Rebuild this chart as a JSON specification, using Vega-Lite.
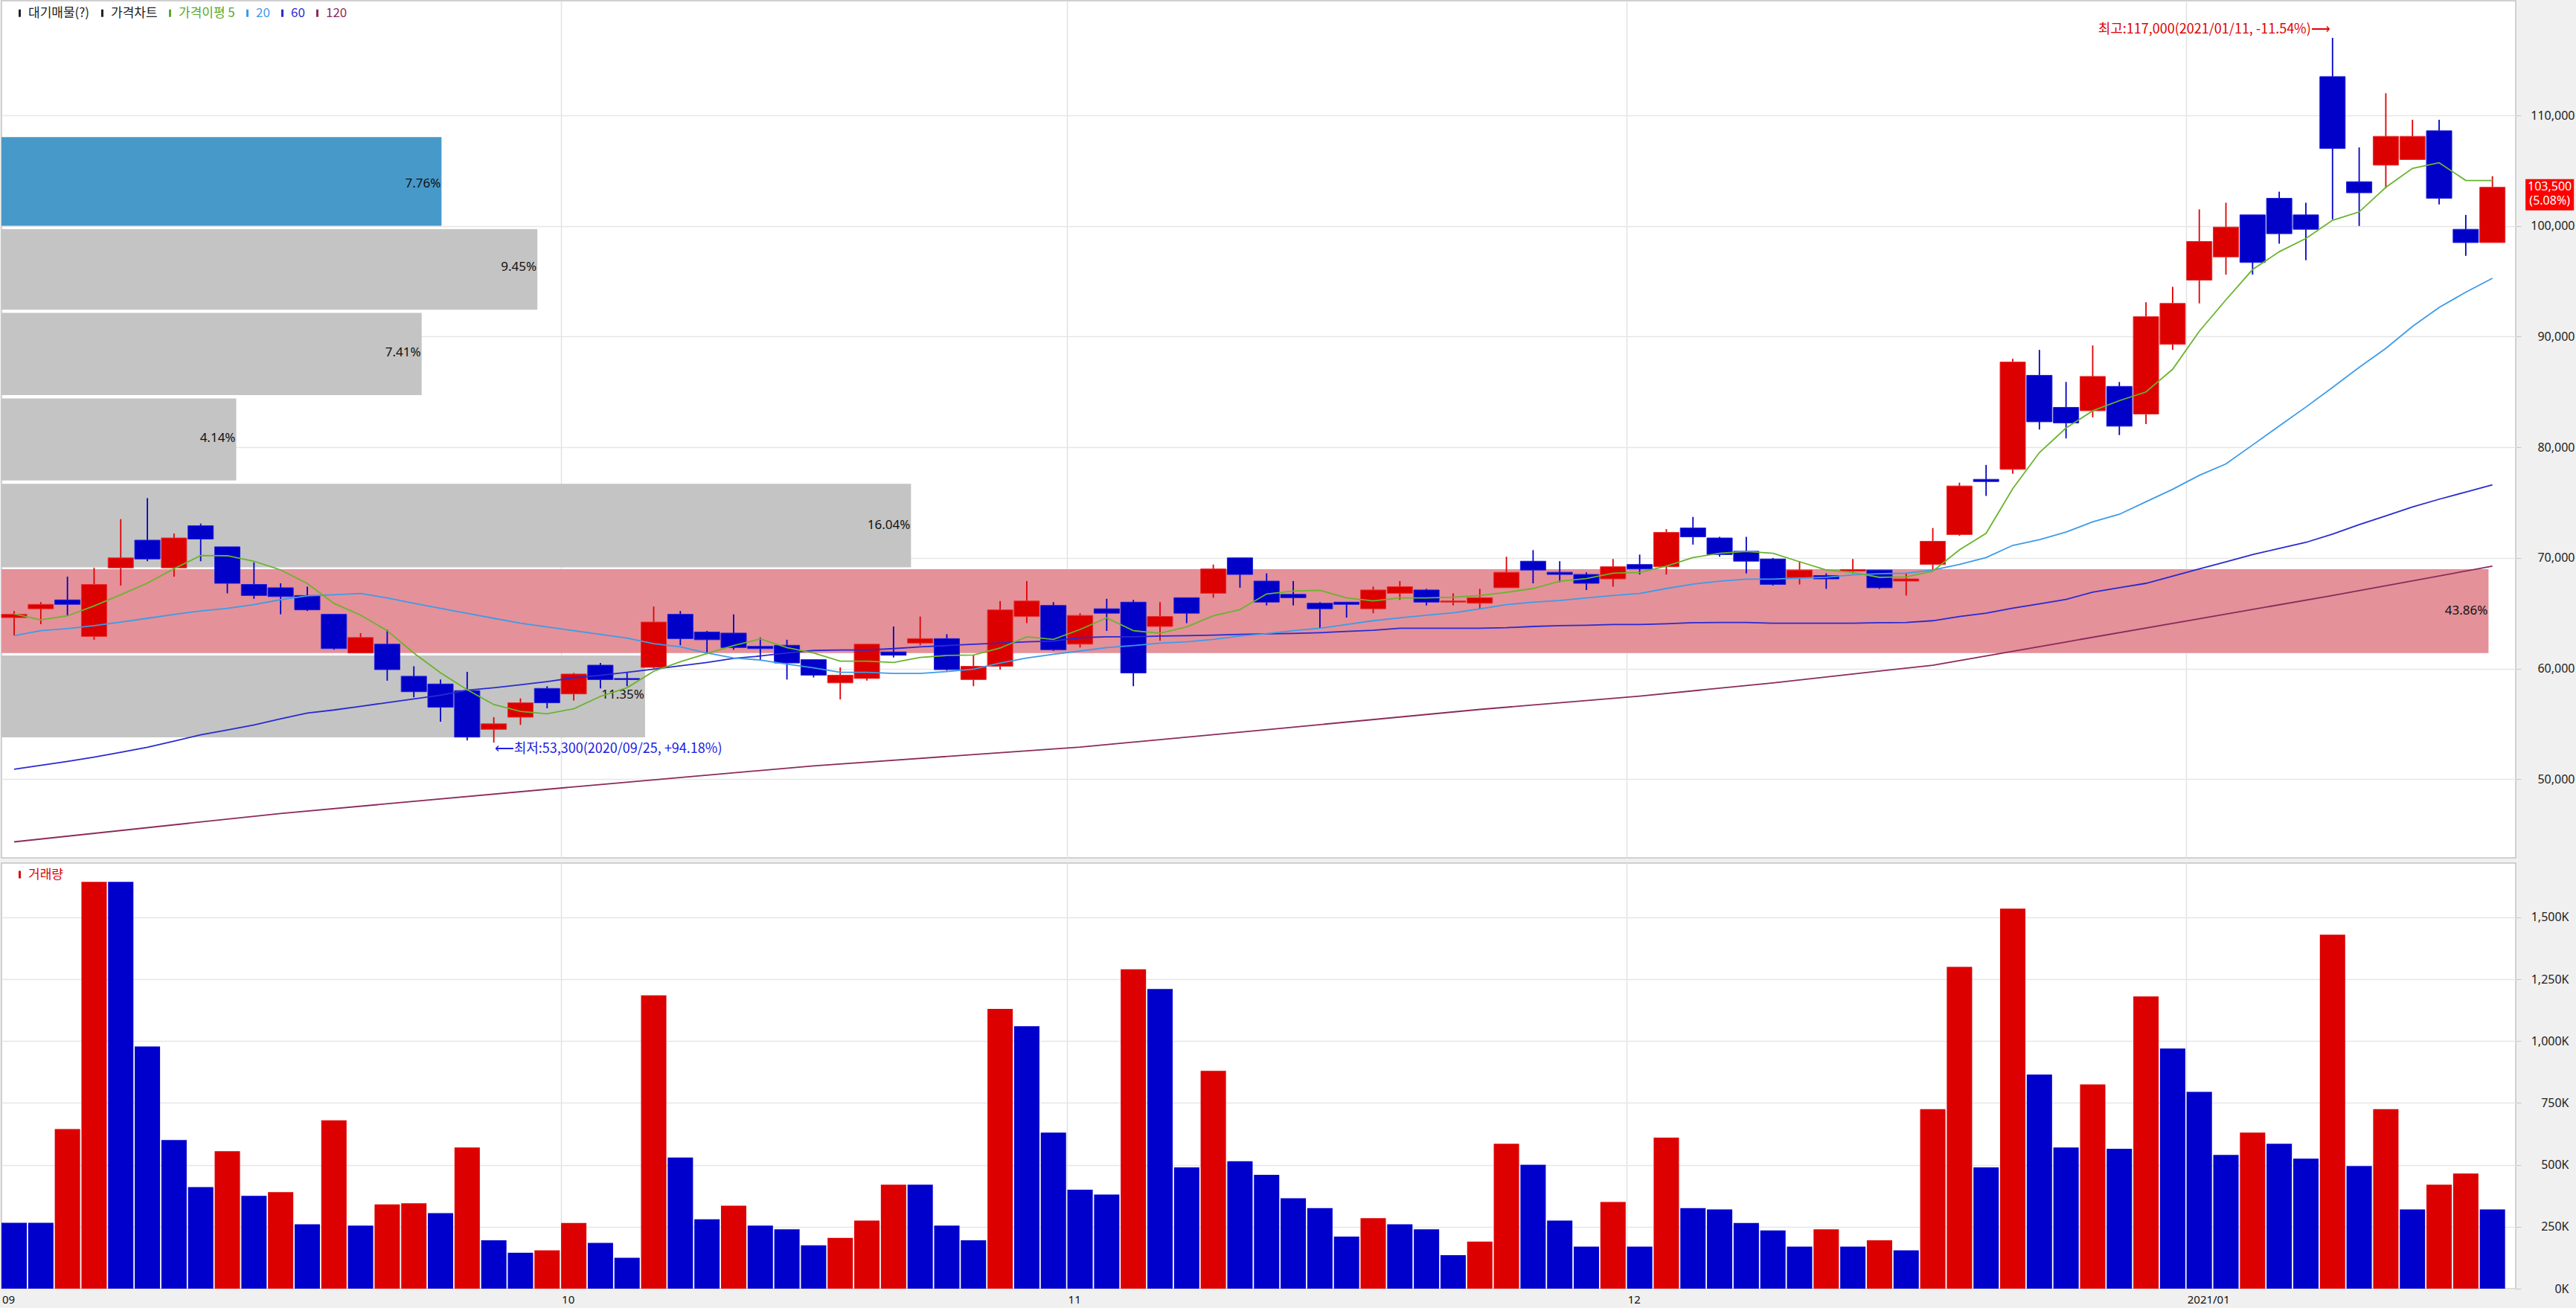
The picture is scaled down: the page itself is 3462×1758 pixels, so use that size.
{
"$schema": "https://vega.github.io/schema/vega-lite/v6.json",
"background": "#f0f0f0",
"padding": {"left": 0, "top": 0, "right": 4, "bottom": 6},
"spacing": 5,
"config": {
  "view": {"fill": "white", "stroke": "#c4c4c4", "strokeWidth": 1.5},
  "font": "Noto Sans CJK KR",
  "axis": {"labelFont": "Noto Sans", "titleFont": "Noto Sans"}
},
"resolve": {"scale": {"x": "independent", "y": "independent", "fill": "independent", "stroke": "independent"}, "legend": {"fill": "independent", "stroke": "independent"}},
"datasets": {
"k": [
{"d":"2020-09-01","o":64600,"h":65200,"l":63000,"c":64900,"v":266000,"vd":"down","m5":64940,"m20":62970,"m60":50900,"m120":44330},
{"d":"2020-09-02","o":65400,"h":66000,"l":64000,"c":65800,"v":266000,"vd":"down","m5":64400,"m20":63420,"m60":51250},
{"d":"2020-09-03","o":66200,"h":68300,"l":64800,"c":65800,"v":645000,"vd":"up","m5":64760,"m20":63600,"m60":51600},
{"d":"2020-09-04","o":62900,"h":69100,"l":62600,"c":67600,"v":1643000,"vd":"up","m5":65660,"m20":63870,"m60":51990},
{"d":"2020-09-07","o":69100,"h":73500,"l":67500,"c":70000,"v":1643000,"vd":"down","m5":66670,"m20":64200,"m60":52430},
{"d":"2020-09-08","o":71600,"h":75400,"l":69700,"c":69900,"v":978000,"vd":"down","m5":67720,"m20":64540,"m60":52880},
{"d":"2020-09-09","o":69100,"h":72200,"l":68300,"c":71800,"v":600000,"vd":"down","m5":69020,"m20":64880,"m60":53440},
{"d":"2020-09-10","o":72900,"h":73100,"l":69700,"c":71700,"v":410000,"vd":"down","m5":70210,"m20":65210,"m60":54000},
{"d":"2020-09-11","o":71000,"h":71000,"l":66800,"c":67700,"v":555000,"vd":"up","m5":70190,"m20":65440,"m60":54450},
{"d":"2020-09-14","o":67600,"h":69600,"l":66300,"c":66600,"v":375000,"vd":"down","m5":69700,"m20":65770,"m60":54900},
{"d":"2020-09-15","o":67300,"h":67700,"l":64900,"c":66500,"v":390000,"vd":"up","m5":68910,"m20":66220,"m60":55460,"m120":46900},
{"d":"2020-09-16","o":66600,"h":67400,"l":65200,"c":65300,"v":260000,"vd":"down","m5":67680,"m20":66560,"m60":55980},
{"d":"2020-09-17","o":64900,"h":64900,"l":61700,"c":61800,"v":680000,"vd":"up","m5":65890,"m20":66670,"m60":56250},
{"d":"2020-09-18","o":61400,"h":63200,"l":61400,"c":62800,"v":255000,"vd":"down","m5":64830,"m20":66780,"m60":56580},
{"d":"2020-09-21","o":62200,"h":63500,"l":58900,"c":59900,"v":340000,"vd":"up","m5":63420,"m20":66380,"m60":56920},
{"d":"2020-09-22","o":59300,"h":60200,"l":57400,"c":57900,"v":345000,"vd":"up","m5":61400,"m20":65890,"m60":57250},
{"d":"2020-09-23","o":58600,"h":59000,"l":55200,"c":56500,"v":305000,"vd":"down","m5":59610,"m20":65440,"m60":57590},
{"d":"2020-09-24","o":58000,"h":59700,"l":53500,"c":53800,"v":570000,"vd":"up","m5":58080,"m20":64990,"m60":58040},
{"d":"2020-09-25","o":54500,"h":55600,"l":53300,"c":55000,"v":195000,"vd":"down","m5":56740,"m20":64540,"m60":58260},
{"d":"2020-09-28","o":55600,"h":57300,"l":54900,"c":56900,"v":145000,"vd":"down","m5":56130,"m20":64090,"m60":58530},
{"d":"2020-09-29","o":58200,"h":58400,"l":56400,"c":56900,"v":155000,"vd":"up","m5":55910,"m20":63760,"m60":58820},
{"d":"2020-10-05","o":57700,"h":59600,"l":57100,"c":59500,"v":265000,"vd":"up","m5":56360,"m20":63420,"m60":59160,"m120":49300},
{"d":"2020-10-06","o":60300,"h":60500,"l":58200,"c":59000,"v":185000,"vd":"down","m5":57480,"m20":63080,"m60":59380},
{"d":"2020-10-07","o":59100,"h":59700,"l":58400,"c":59000,"v":125000,"vd":"down","m5":58260,"m20":62750,"m60":59650},
{"d":"2020-10-08","o":60100,"h":65600,"l":60000,"c":64200,"v":1185000,"vd":"up","m5":59750,"m20":62250,"m60":59940},
{"d":"2020-10-12","o":64900,"h":65200,"l":62100,"c":62700,"v":530000,"vd":"down","m5":60620,"m20":61960,"m60":60240},
{"d":"2020-10-13","o":63300,"h":63400,"l":61300,"c":62600,"v":280000,"vd":"down","m5":61360,"m20":61400,"m60":60550},
{"d":"2020-10-14","o":63200,"h":64900,"l":61700,"c":61900,"v":335000,"vd":"up","m5":62070,"m20":60950,"m60":60910},
{"d":"2020-10-15","o":62000,"h":62800,"l":60700,"c":61800,"v":255000,"vd":"down","m5":62680,"m20":60770,"m60":61130},
{"d":"2020-10-16","o":62100,"h":62600,"l":59000,"c":60500,"v":240000,"vd":"down","m5":61890,"m20":60390,"m60":61400},
{"d":"2020-10-19","o":60800,"h":60800,"l":59200,"c":59400,"v":175000,"vd":"down","m5":61400,"m20":60060,"m60":61630,"m120":51200},
{"d":"2020-10-20","o":58700,"h":60100,"l":57200,"c":59400,"v":205000,"vd":"up","m5":60660,"m20":59650,"m60":61670},
{"d":"2020-10-21","o":59100,"h":62200,"l":58900,"c":62200,"v":275000,"vd":"up","m5":60660,"m20":59650,"m60":61670},
{"d":"2020-10-22","o":61500,"h":63800,"l":61000,"c":61200,"v":420000,"vd":"up","m5":60550,"m20":59560,"m60":61800},
{"d":"2020-10-23","o":62300,"h":64700,"l":62100,"c":62700,"v":420000,"vd":"down","m5":61000,"m20":59560,"m60":61960},
{"d":"2020-10-26","o":62700,"h":63100,"l":59800,"c":59900,"v":255000,"vd":"down","m5":61180,"m20":59720,"m60":62070},
{"d":"2020-10-27","o":59000,"h":61200,"l":58400,"c":60200,"v":195000,"vd":"down","m5":61220,"m20":59940,"m60":62190},
{"d":"2020-10-28","o":60200,"h":66100,"l":59900,"c":65300,"v":1130000,"vd":"up","m5":61850,"m20":60500,"m60":62300},
{"d":"2020-10-29","o":64700,"h":67900,"l":64100,"c":66100,"v":1060000,"vd":"down","m5":62860,"m20":60950,"m60":62410},
{"d":"2020-10-30","o":65700,"h":66000,"l":61600,"c":61700,"v":630000,"vd":"down","m5":62630,"m20":61290,"m60":62480},
{"d":"2020-11-02","o":62200,"h":65000,"l":61900,"c":64800,"v":400000,"vd":"down","m5":63530,"m20":61580,"m60":62790,"m120":52900},
{"d":"2020-11-03","o":65400,"h":66300,"l":63400,"c":65000,"v":380000,"vd":"down","m5":64580,"m20":61890,"m60":62860},
{"d":"2020-11-04","o":66000,"h":66200,"l":58400,"c":59600,"v":1290000,"vd":"up","m5":63420,"m20":62070,"m60":62860},
{"d":"2020-11-05","o":63800,"h":66000,"l":62500,"c":64700,"v":1210000,"vd":"down","m5":63190,"m20":62300,"m60":62930},
{"d":"2020-11-06","o":66400,"h":66400,"l":64100,"c":65000,"v":490000,"vd":"down","m5":63760,"m20":62410,"m60":62970},
{"d":"2020-11-09","o":66800,"h":69400,"l":66400,"c":69000,"v":880000,"vd":"up","m5":64760,"m20":62630,"m60":63020},
{"d":"2020-11-10","o":70000,"h":70000,"l":67300,"c":68500,"v":515000,"vd":"down","m5":65320,"m20":62930,"m60":63080},
{"d":"2020-11-11","o":67900,"h":68600,"l":65700,"c":66000,"v":460000,"vd":"down","m5":66740,"m20":63150,"m60":63130},
{"d":"2020-11-12","o":66700,"h":67900,"l":65700,"c":66400,"v":365000,"vd":"down","m5":67000,"m20":63420,"m60":63170,"m120":54700},
{"d":"2020-11-13","o":65900,"h":66000,"l":63600,"c":65400,"v":325000,"vd":"down","m5":67070,"m20":63640,"m60":63240},
{"d":"2020-11-16","o":66000,"h":66000,"l":64600,"c":65800,"v":210000,"vd":"down","m5":66380,"m20":63980,"m60":63350},
{"d":"2020-11-17","o":65400,"h":67400,"l":65000,"c":67100,"v":285000,"vd":"up","m5":66110,"m20":64320,"m60":63460},
{"d":"2020-11-18","o":66800,"h":67900,"l":66200,"c":67400,"v":260000,"vd":"down","m5":66380,"m20":64580,"m60":63640},
{"d":"2020-11-19","o":67100,"h":67200,"l":65700,"c":66000,"v":240000,"vd":"down","m5":66380,"m20":64810,"m60":63640},
{"d":"2020-11-20","o":66000,"h":66800,"l":65700,"c":66100,"v":135000,"vd":"down","m5":66450,"m20":65030,"m60":63640},
{"d":"2020-11-23","o":65900,"h":67200,"l":65400,"c":66400,"v":190000,"vd":"up","m5":66600,"m20":65390,"m60":63640,"m120":56300},
{"d":"2020-11-24","o":67300,"h":70100,"l":67300,"c":68700,"v":585000,"vd":"up","m5":66890,"m20":65770,"m60":63690},
{"d":"2020-11-25","o":69700,"h":70700,"l":67700,"c":68900,"v":500000,"vd":"down","m5":67230,"m20":66000,"m60":63800},
{"d":"2020-11-26","o":68700,"h":69700,"l":67800,"c":68500,"v":275000,"vd":"down","m5":67900,"m20":66150,"m60":63870},
{"d":"2020-11-27","o":68500,"h":68700,"l":67100,"c":67700,"v":170000,"vd":"down","m5":68130,"m20":66380,"m60":63910},
{"d":"2020-11-30","o":68100,"h":69900,"l":67400,"c":69200,"v":350000,"vd":"up","m5":68620,"m20":66600,"m60":63980},
{"d":"2020-12-01","o":69400,"h":70300,"l":68500,"c":69000,"v":170000,"vd":"down","m5":68690,"m20":66780,"m60":63980,"m120":57500},
{"d":"2020-12-02","o":69200,"h":72600,"l":68500,"c":72300,"v":610000,"vd":"up","m5":69250,"m20":67230,"m60":64050},
{"d":"2020-12-03","o":72700,"h":73700,"l":71200,"c":71900,"v":325000,"vd":"down","m5":70030,"m20":67630,"m60":64140},
{"d":"2020-12-04","o":71800,"h":71900,"l":70100,"c":70300,"v":320000,"vd":"down","m5":70410,"m20":67900,"m60":64160},
{"d":"2020-12-07","o":70600,"h":71900,"l":68600,"c":69700,"v":265000,"vd":"down","m5":70590,"m20":68080,"m60":64160},
{"d":"2020-12-08","o":69900,"h":70000,"l":67500,"c":67600,"v":235000,"vd":"down","m5":70410,"m20":68080,"m60":64090,"m120":58700},
{"d":"2020-12-09","o":68200,"h":69700,"l":67600,"c":68900,"v":170000,"vd":"down","m5":69650,"m20":68170,"m60":64090},
{"d":"2020-12-10","o":68400,"h":68600,"l":67200,"c":68100,"v":240000,"vd":"up","m5":68910,"m20":68240,"m60":64090},
{"d":"2020-12-11","o":68800,"h":69900,"l":68600,"c":68950,"v":170000,"vd":"down","m5":68690,"m20":68460,"m60":64090},
{"d":"2020-12-14","o":68900,"h":68900,"l":67200,"c":67300,"v":195000,"vd":"up","m5":68240,"m20":68570,"m60":64140},
{"d":"2020-12-15","o":67900,"h":68600,"l":66600,"c":68100,"v":155000,"vd":"down","m5":68280,"m20":68620,"m60":64160},
{"d":"2020-12-16","o":69400,"h":72700,"l":68900,"c":71500,"v":725000,"vd":"up","m5":68800,"m20":68900,"m60":64320,"m120":60300},
{"d":"2020-12-17","o":72100,"h":76800,"l":72000,"c":76500,"v":1300000,"vd":"up","m5":70720,"m20":69410,"m60":64700},
{"d":"2020-12-18","o":77100,"h":78400,"l":75600,"c":76900,"v":490000,"vd":"down","m5":72220,"m20":70030,"m60":65000},
{"d":"2020-12-21","o":78000,"h":88000,"l":77600,"c":87700,"v":1535000,"vd":"up","m5":76260,"m20":71130,"m60":65450},
{"d":"2020-12-22","o":86500,"h":88800,"l":81600,"c":82300,"v":865000,"vd":"down","m5":79520,"m20":71640,"m60":65850},
{"d":"2020-12-23","o":83600,"h":85900,"l":80800,"c":82200,"v":570000,"vd":"down","m5":81740,"m20":72330,"m60":66250,"m120":62400},
{"d":"2020-12-24","o":83300,"h":89200,"l":82700,"c":86400,"v":825000,"vd":"up","m5":83290,"m20":73250,"m60":66900},
{"d":"2020-12-28","o":85500,"h":85900,"l":81100,"c":81900,"v":565000,"vd":"down","m5":84210,"m20":73940,"m60":67300},
{"d":"2020-12-29","o":83000,"h":93100,"l":82100,"c":91800,"v":1180000,"vd":"up","m5":85000,"m20":75070,"m60":67700},
{"d":"2020-12-30","o":89300,"h":94500,"l":88800,"c":93000,"v":970000,"vd":"down","m5":87050,"m20":76200,"m60":68350},
{"d":"2021-01-04","o":95100,"h":101500,"l":93000,"c":98600,"v":795000,"vd":"down","m5":90480,"m20":77460,"m60":69000,"m120":64500},
{"d":"2021-01-05","o":97200,"h":102100,"l":95600,"c":99900,"v":540000,"vd":"down","m5":93320,"m20":78490,"m60":69650},
{"d":"2021-01-06","o":101000,"h":101000,"l":95600,"c":96700,"v":630000,"vd":"up","m5":96060,"m20":80200,"m60":70300},
{"d":"2021-01-07","o":102500,"h":103100,"l":98400,"c":99300,"v":585000,"vd":"down","m5":97670,"m20":81920,"m60":70850},
{"d":"2021-01-08","o":101000,"h":102100,"l":96900,"c":99700,"v":525000,"vd":"down","m5":98870,"m20":83630,"m60":71400},
{"d":"2021-01-11","o":113500,"h":117000,"l":100600,"c":107000,"v":1430000,"vd":"up","m5":100510,"m20":85410,"m60":72150,"m120":66600},
{"d":"2021-01-12","o":104000,"h":107100,"l":100000,"c":103000,"v":495000,"vd":"down","m5":101270,"m20":87220,"m60":73000},
{"d":"2021-01-13","o":105500,"h":112000,"l":103400,"c":108100,"v":725000,"vd":"up","m5":103490,"m20":88940,"m60":73800},
{"d":"2021-01-14","o":106000,"h":109600,"l":106000,"c":108100,"v":320000,"vd":"down","m5":105200,"m20":90920,"m60":74600},
{"d":"2021-01-15","o":108600,"h":109600,"l":101950,"c":102500,"v":420000,"vd":"up","m5":105720,"m20":92640,"m60":75300},
{"d":"2021-01-18","o":99700,"h":101000,"l":97300,"c":98500,"v":465000,"vd":"up","m5":104110,"m20":94010,"m60":75950},
{"d":"2021-01-19","o":98500,"h":104500,"l":98500,"c":103500,"v":320000,"vd":"down","m5":104110,"m20":95270,"m60":76600,"m120":69250}
],
"vp": [
{"lo":100010,"hi":108030,"pct":0.0776,"kind":"cur"},
{"lo":92430,"hi":99710,"pct":0.0945,"kind":"norm"},
{"lo":84710,"hi":92140,"pct":0.0741,"kind":"norm"},
{"lo":76990,"hi":84410,"pct":0.0414,"kind":"norm"},
{"lo":69140,"hi":76690,"pct":0.1604,"kind":"norm"},
{"lo":61400,"hi":68980,"pct":0.4386,"kind":"max"},
{"lo":53780,"hi":61180,"pct":0.1135,"kind":"norm"}
]
},
"vconcat": [
{
  "width": 3379,
  "height": 1152,
  "resolve": {"scale": {"x": "independent"}},
  "layer": [
    {
      "data": {"name": "vp"},
      "layer": [
        {
          "mark": {"type": "rect"},
          "encoding": {
            "x": {"field": "pct", "type": "quantitative", "scale": {"domain": [0, 0.4434], "nice": false, "zero": true}, "axis": null},
            "x2": {"datum": 0},
            "y": {"field": "lo", "type": "quantitative", "scale": {"domain": [42885, 120357], "nice": false, "zero": false}, "title": null},
            "y2": {"field": "hi"},
            "fill": {"field": "kind", "type": "nominal", "scale": {"domain": ["cur", "max", "norm"], "range": ["#4799c9", "#e4919a", "#c4c4c4"]}, "legend": null}
          }
        },
        {
          "mark": {"type": "text", "align": "right", "baseline": "middle", "dx": -1, "dy": -57, "fontSize": 17, "font": "Noto Sans", "color": "#111111"},
          "encoding": {
            "x": {"field": "pct", "type": "quantitative", "scale": {"domain": [0, 0.4434], "nice": false, "zero": true}, "axis": null},
            "y": {"field": "lo", "type": "quantitative", "scale": {"domain": [42885, 120357], "nice": false, "zero": false}, "title": null},
            "text": {"field": "pct", "type": "quantitative", "format": ".2%"}
          }
        }
      ]
    },
    {
      "layer": [
        {
          "data": {"name": "k"},
          "mark": {"type": "rule", "strokeWidth": 1.8},
          "encoding": {
            "x": {"field": "d", "type": "ordinal", "bandPosition": 0.5,
                  "scale": {"type": "band", "paddingInner": 0.05, "paddingOuter": 0.2, "align": 0, "round": false},
                  "axis": {"orient": "bottom", "labels": false, "ticks": false, "domain": false, "title": null, "bandPosition": 0, "grid": true, "gridColor": "#e2e2e2", "gridWidth": 1.5,
                           "gridOpacity": {"condition": {"test": "indexof(['2020-10-05','2020-11-02','2020-12-01','2021-01-04'], datum.value) >= 0", "value": 1}, "value": 0}}},
            "y": {"field": "l", "type": "quantitative", "scale": {"domain": [42885, 120357], "nice": false, "zero": false},
                  "axis": {"orient": "right", "title": null, "values": [50000, 60000, 70000, 80000, 90000, 100000, 110000], "format": ",d", "grid": true, "gridColor": "#e6e6e6", "gridWidth": 1.5, "tickSize": 7, "tickColor": "#c8c8c8", "domain": false, "labelAlign": "right", "labelPadding": 72, "labelFontSize": 16, "labelColor": "#222222"}},
            "y2": {"field": "h"},
            "color": {"condition": {"test": "datum.c >= datum.o", "value": "#e00000"}, "value": "#0000c8"}
          }
        },
        {
          "data": {"name": "k"},
          "mark": {"type": "bar", "strokeWidth": 1},
          "encoding": {
            "x": {"field": "d", "type": "ordinal", "scale": {"type": "band", "paddingInner": 0.05, "paddingOuter": 0.2, "align": 0, "round": false}},
            "y": {"field": "o", "type": "quantitative", "scale": {"domain": [42885, 120357], "nice": false, "zero": false}, "title": null},
            "y2": {"field": "c"},
            "fill": {"condition": {"test": "datum.c >= datum.o", "value": "#dd0000"}, "value": "#0000c8"},
            "stroke": {"condition": {"test": "datum.c >= datum.o", "value": "#e83030"}, "value": "#2020d8"}
          }
        },
        {
          "data": {"name": "k"},
          "transform": [{"fold": ["m120", "m60", "m20", "m5"]}],
          "mark": {"type": "line", "strokeWidth": 1.8, "invalid": "filter"},
          "encoding": {
            "x": {"field": "d", "type": "ordinal", "bandPosition": 0.5, "scale": {"type": "band", "paddingInner": 0.05, "paddingOuter": 0.2, "align": 0, "round": false}},
            "y": {"field": "value", "type": "quantitative", "scale": {"domain": [42885, 120357], "nice": false, "zero": false}, "title": null},
            "stroke": {"field": "key", "type": "nominal",
                       "scale": {"domain": ["vp", "candle", "m5", "m20", "m60", "m120"], "range": ["#222222", "#222222", "#6ab42d", "#3e9be8", "#2a2ad0", "#8c2a5c"]},
                       "legend": {"orient": "none", "legendX": 16, "legendY": 8, "direction": "horizontal", "title": null, "padding": 0,
                                  "symbolType": "M-0.3,-1L0.3,-1L0.3,1L-0.3,1Z", "symbolSize": 100, "symbolStrokeWidth": 0,
                                  "symbolFillColor": {"expr": "datum.value == 'm5' ? '#5aa82a' : datum.value == 'm20' ? '#3e9be8' : datum.value == 'm60' ? '#2a2ad0' : datum.value == 'm120' ? '#8c2a5c' : '#222222'"},
                                  "labelColor": {"expr": "datum.value == 'm5' ? '#5aa82a' : datum.value == 'm20' ? '#3e9be8' : datum.value == 'm60' ? '#2a2ad0' : datum.value == 'm120' ? '#8c2a5c' : '#222222'"},
                                  "labelFontSize": 17, "labelFont": "Noto Sans CJK KR", "labelOffset": 3, "columnPadding": 8,
                                  "labelExpr": "datum.value == 'vp' ? '대기매물(?)' : datum.value == 'candle' ? '가격차트' : datum.value == 'm5' ? '가격이평 5' : datum.value == 'm20' ? '20' : datum.value == 'm60' ? '60' : '120'"}}
          }
        },
        {
          "data": {"values": [{"d": "2021-01-11", "p": 117000, "t": "최고:117,000(2021/01/11, -11.54%)⟶"}]},
          "mark": {"type": "text", "align": "right", "baseline": "middle", "dx": -3, "dy": -11, "fontSize": 18, "color": "#e00000"},
          "encoding": {
            "x": {"field": "d", "type": "ordinal", "bandPosition": 0.5, "scale": {"type": "band", "paddingInner": 0.05, "paddingOuter": 0.2, "align": 0, "round": false}},
            "y": {"field": "p", "type": "quantitative", "scale": {"domain": [42885, 120357], "nice": false, "zero": false}, "title": null},
            "text": {"field": "t"}
          }
        },
        {
          "data": {"values": [{"d": "2020-09-25", "p": 53300, "t": "⟵최저:53,300(2020/09/25, +94.18%)"}]},
          "mark": {"type": "text", "align": "left", "baseline": "middle", "dx": 1, "dy": 9, "fontSize": 18, "color": "#2020e0"},
          "encoding": {
            "x": {"field": "d", "type": "ordinal", "bandPosition": 0.5, "scale": {"type": "band", "paddingInner": 0.05, "paddingOuter": 0.2, "align": 0, "round": false}},
            "y": {"field": "p", "type": "quantitative", "scale": {"domain": [42885, 120357], "nice": false, "zero": false}, "title": null},
            "text": {"field": "t"}
          }
        },
        {
          "data": {"values": [{"d": "2021-01-19", "p": 103500, "t": "103,500\n(5.08%)"}]},
          "layer": [
            {
              "mark": {"type": "point", "shape": "M-1.55,-1L1.55,-1L1.55,1L-1.55,1Z", "size": 1764, "filled": true, "opacity": 1, "color": "#ff0000", "xOffset": 77, "yOffset": 10},
              "encoding": {
                "x": {"field": "d", "type": "ordinal", "bandPosition": 0.5, "scale": {"type": "band", "paddingInner": 0.05, "paddingOuter": 0.2, "align": 0, "round": false}},
                "y": {"field": "p", "type": "quantitative", "scale": {"domain": [42885, 120357], "nice": false, "zero": false}, "title": null}
              }
            },
            {
              "mark": {"type": "text", "align": "center", "baseline": "top", "dx": 77, "dy": -9, "fontSize": 16, "font": "Noto Sans", "lineBreak": "\n", "lineHeight": 19, "color": "white"},
              "encoding": {
                "x": {"field": "d", "type": "ordinal", "bandPosition": 0.5, "scale": {"type": "band", "paddingInner": 0.05, "paddingOuter": 0.2, "align": 0, "round": false}},
                "y": {"field": "p", "type": "quantitative", "scale": {"domain": [42885, 120357], "nice": false, "zero": false}, "title": null},
                "text": {"field": "t"}
              }
            }
          ]
        }
      ]
    }
  ]
},
{
  "width": 3379,
  "height": 572,
  "data": {"name": "k"},
  "mark": {"type": "bar"},
  "encoding": {
    "x": {"field": "d", "type": "ordinal",
          "scale": {"type": "band", "paddingInner": 0.05, "paddingOuter": 0.2, "align": 0, "round": false},
          "axis": {"orient": "bottom", "title": null, "bandPosition": 0, "ticks": false, "domain": false, "labelAngle": 0, "labelBaseline": "top", "labelAlign": "left", "labelOffset": -16, "labelOverlap": false, "labelPadding": 7, "labelFontSize": 15, "labelColor": "#111111", "labelFlush": false,
                   "labelExpr": "datum.value == '2020-09-01' ? '09' : datum.value == '2020-10-05' ? '10' : datum.value == '2020-11-02' ? '11' : datum.value == '2020-12-01' ? '12' : datum.value == '2021-01-04' ? '2021/01' : ''",
                   "grid": true, "gridColor": "#e2e2e2", "gridWidth": 1.5,
                   "gridOpacity": {"condition": {"test": "indexof(['2020-10-05','2020-11-02','2020-12-01','2021-01-04'], datum.value) >= 0", "value": 1}, "value": 0}}},
    "y": {"field": "v", "type": "quantitative", "scale": {"domain": [0, 1719000], "nice": false},
          "axis": {"orient": "right", "title": null, "values": [0, 250000, 500000, 750000, 1000000, 1250000, 1500000],
                   "labelExpr": "datum.value == 0 ? '0K' : format(datum.value / 1000, ',') + 'K'",
                   "grid": true, "gridColor": "#e6e6e6", "gridWidth": 1.5, "tickSize": 7, "tickColor": "#c8c8c8", "domain": false, "labelAlign": "right", "labelPadding": 64, "labelFontSize": 16, "labelColor": "#222222"}},
    "fill": {"field": "vd", "type": "nominal", "scale": {"domain": ["up", "down"], "range": ["#dd0000", "#0000cc"]},
             "legend": {"values": ["up"], "orient": "none", "legendX": 16, "legendY": 7, "title": null, "padding": 0, "labelExpr": "'거래량'", "labelColor": "#e00000", "labelFontSize": 17, "labelFont": "Noto Sans CJK KR", "labelOffset": 3,
                        "symbolType": "M-0.3,-1L0.3,-1L0.3,1L-0.3,1Z", "symbolSize": 100, "symbolStrokeWidth": 0}}
  }
}
]
}
